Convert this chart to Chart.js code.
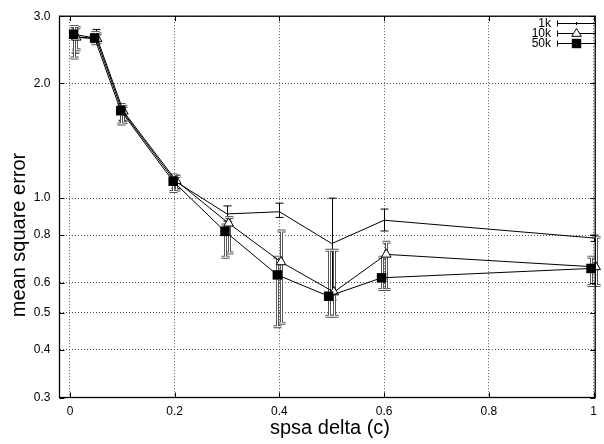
<!DOCTYPE html>
<html>
<head>
<meta charset="utf-8">
<script src="https://cdn.jsdelivr.net/npm/chart.js@4.4.1/dist/chart.umd.min.js"></script>
<style>
html, body { margin: 0; padding: 0; background: #fff; }
#wrap { width: 604px; height: 444px; }
</style>
</head>
<body>
<div id="wrap"><canvas id="c" width="604" height="444"></canvas></div>
<script>
// spsa delta (c) per series - the runs are slightly offset in x
const delta1k  = [0.010, 0.050, 0.100, 0.200, 0.300, 0.400, 0.500, 0.600, 1.000];
const delta10k = [0.012, 0.052, 0.102, 0.203, 0.303, 0.403, 0.504, 0.604, 1.004];
const delta50k = [0.007, 0.047, 0.097, 0.197, 0.296, 0.396, 0.494, 0.595, 0.995];

// mean square error
const mse1k  = [2.65, 2.62, 1.69, 1.11, 0.909, 0.921, 0.760, 0.875, 0.786];
const mse10k = [2.64, 2.62, 1.69, 1.11, 0.859, 0.680, 0.567, 0.712, 0.660];
const mse50k = [2.69, 2.63, 1.695, 1.107, 0.818, 0.629, 0.553, 0.618, 0.654];

// error bar ranges
const lo1k  = [2.40, 2.55, 1.60, 1.06, 0.87, 0.89, 0.54, 0.82, 0.77];
const hi1k  = [2.78, 2.77, 1.75, 1.15, 0.954, 0.970, 1.00, 0.936, 0.80];
const lo10k = [2.45, 2.56, 1.58, 1.05, 0.718, 0.47, 0.49, 0.576, 0.59];
const hi10k = [2.80, 2.70, 1.74, 1.14, 0.89, 0.82, 0.73, 0.766, 0.79];
const lo50k = [2.33, 2.54, 1.565, 1.041, 0.70, 0.46, 0.49, 0.576, 0.59];
const hi50k = [2.82, 2.72, 1.76, 1.15, 0.85, 0.70, 0.73, 0.70, 0.70];

const xTicks = [0, 0.2, 0.4, 0.6, 0.8, 1];
const yTicks = [0.3, 0.4, 0.5, 0.6, 0.8, 1.0, 2.0, 3.0];
const seriesNames = ['1k', '10k', '50k'];

const FONT = '"Liberation Sans", Arial, Helvetica, sans-serif';

function pts(xs, ys) {
    return xs.map((v, i) => ({ x: v, y: ys[i] }));
}

function drawBar(ctx, px, pLo, pHi, style) {
    const cap = 4;
    const path = () => {
        ctx.beginPath();
        ctx.moveTo(px, pLo); ctx.lineTo(px, pHi);
        ctx.moveTo(px - cap, pLo); ctx.lineTo(px + cap, pLo);
        ctx.moveTo(px - cap, pHi); ctx.lineTo(px + cap, pHi);
    };
    if (style === 'double') {
        path(); ctx.lineWidth = 3; ctx.strokeStyle = '#555'; ctx.stroke();
        path(); ctx.lineWidth = 1; ctx.strokeStyle = '#fff'; ctx.stroke();
    } else {
        path(); ctx.lineWidth = 1; ctx.strokeStyle = '#000'; ctx.stroke();
    }
}

// error bars, drawn under the markers
const errorBars = {
    id: 'errorBars',
    beforeDatasetsDraw(chart) {
        const { ctx, scales: { x, y } } = chart;
        ctx.save();
        chart.data.datasets.slice().reverse().forEach(ds => {
            ds.errLo.forEach((lo, i) => {
                const px = Math.round(x.getPixelForValue(ds.data[i].x)) + 0.5;
                drawBar(ctx, px, y.getPixelForValue(lo), y.getPixelForValue(ds.errHi[i]), ds.errStyle);
            });
        });
        ctx.restore();
    }
};

// border, inward ticks, legend and axis titles (gnuplot look)
const frame = {
    id: 'frame',
    afterDraw(chart) {
        const { ctx, chartArea: a, scales: { x, y } } = chart;
        ctx.save();
        ctx.strokeStyle = '#000';
        ctx.lineWidth = 1.3;
        ctx.strokeRect(a.left, a.top, a.right - a.left, a.bottom - a.top);
        ctx.lineWidth = 1;
        ctx.beginPath();
        xTicks.forEach(v => {
            const px = Math.round(x.getPixelForValue(v)) + 0.5;
            ctx.moveTo(px, a.bottom); ctx.lineTo(px, a.bottom - 5);
            ctx.moveTo(px, a.top); ctx.lineTo(px, a.top + 5);
        });
        yTicks.forEach(v => {
            const py = Math.round(y.getPixelForValue(v)) + 0.5;
            ctx.moveTo(a.left, py); ctx.lineTo(a.left + 5, py);
            ctx.moveTo(a.right, py); ctx.lineTo(a.right - 5, py);
        });
        ctx.stroke();

        // legend
        ctx.font = '12px ' + FONT;
        ctx.fillStyle = '#000';
        ctx.textAlign = 'right';
        ctx.textBaseline = 'middle';
        const rows = [23.5, 33.5, 43.5];
        seriesNames.forEach((name, i) => {
            const ly = rows[i];
            ctx.fillText(name, 551, ly);
            ctx.beginPath();
            ctx.moveTo(557, ly); ctx.lineTo(596, ly);
            ctx.moveTo(557.5, ly - 3); ctx.lineTo(557.5, ly + 3);
            ctx.moveTo(595.5, ly - 3); ctx.lineTo(595.5, ly + 3);
            ctx.lineWidth = 1; ctx.strokeStyle = '#000'; ctx.stroke();
            const mx = 576.5;
            if (i === 0) {
                ctx.beginPath(); ctx.moveTo(mx, ly - 1.5); ctx.lineTo(mx, ly + 1.5); ctx.stroke();
            } else if (i === 1) {
                ctx.beginPath();
                ctx.moveTo(mx, ly - 5); ctx.lineTo(mx + 4.8, ly + 2.8); ctx.lineTo(mx - 4.8, ly + 2.8); ctx.closePath();
                ctx.fillStyle = '#fff'; ctx.fill(); ctx.stroke(); ctx.fillStyle = '#000';
            } else {
                ctx.fillRect(mx - 4.7, ly - 4.7, 9.4, 9.4);
            }
        });

        // axis titles
        ctx.font = '20px ' + FONT;
        ctx.textAlign = 'center';
        ctx.textBaseline = 'middle';
        ctx.fillText('spsa delta (c)', 330, 428);
        ctx.translate(19, 235);
        ctx.rotate(-Math.PI / 2);
        ctx.fillText('mean square error', 0, 0);
        ctx.restore();
    }
};

const gridStyle = { color: '#555', lineWidth: 1, drawTicks: false };

new Chart(document.getElementById('c'), {
    type: 'line',
    data: {
        datasets: [
            { label: '50k', data: pts(delta50k, mse50k), errLo: lo50k, errHi: hi50k, errStyle: 'double',
              borderColor: '#000', borderWidth: 1, pointStyle: 'rect', pointRadius: 6.7,
              pointBackgroundColor: '#000', pointBorderColor: '#000', pointBorderWidth: 0, tension: 0, clip: false },
            { label: '10k', data: pts(delta10k, mse10k), errLo: lo10k, errHi: hi10k, errStyle: 'double',
              borderColor: '#000', borderWidth: 1, pointStyle: 'triangle', pointRadius: 5.5,
              pointBackgroundColor: '#fff', pointBorderColor: '#000', pointBorderWidth: 1, tension: 0, clip: false },
            { label: '1k', data: pts(delta1k, mse1k), errLo: lo1k, errHi: hi1k, errStyle: 'thin',
              borderColor: '#000', borderWidth: 1, pointRadius: 0, tension: 0, clip: false }
        ]
    },
    options: {
        responsive: false,
        animation: false,
        events: [],
        layout: { padding: { top: 11, right: 3, left: 0, bottom: 0 } },
        plugins: { legend: { display: false }, tooltip: { enabled: false } },
        scales: {
            x: {
                type: 'linear', min: -0.02, max: 1.003,
                afterFit: s => { s.height = 46.5; },
                afterBuildTicks: s => { s.ticks = xTicks.map(v => ({ value: v })); },
                grid: gridStyle,
                border: { display: false, dash: [1, 2] },
                ticks: { color: '#000', font: { family: FONT, size: 12 }, padding: 7,
                         maxRotation: 0, autoSkip: false, callback: v => String(v) }
            },
            y: {
                type: 'logarithmic', min: 0.3, max: 3.0,
                afterFit: s => { s.width = 59.5; },
                afterBuildTicks: s => { s.ticks = yTicks.map(v => ({ value: v })); },
                grid: gridStyle,
                border: { display: false, dash: [1, 2] },
                ticks: { color: '#000', font: { family: FONT, size: 12 }, padding: 9,
                         autoSkip: false, callback: v => Number(v).toFixed(1) }
            }
        }
    },
    plugins: [errorBars, frame]
});
</script>
</body>
</html>
